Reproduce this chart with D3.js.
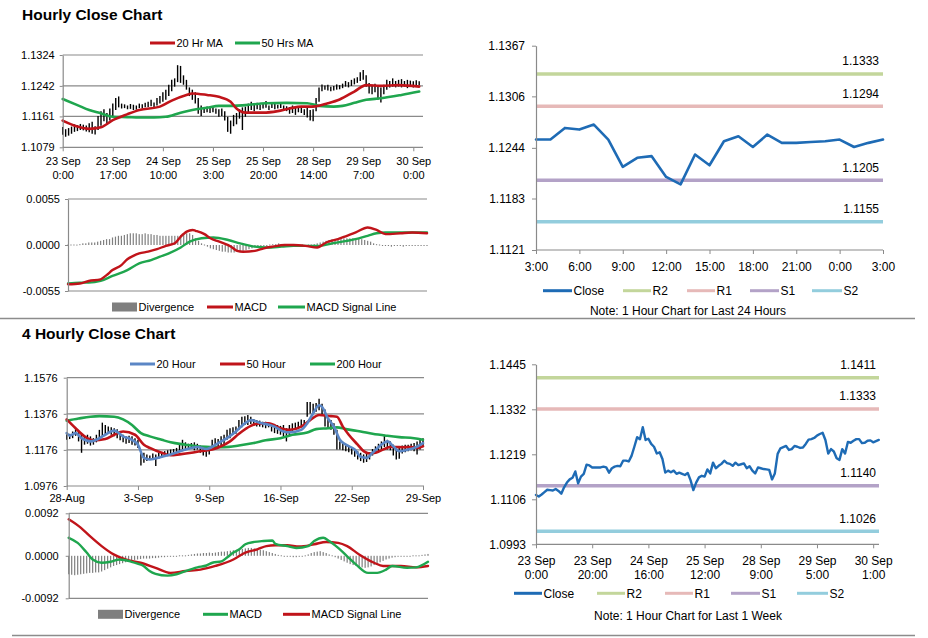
<!DOCTYPE html>
<html><head><meta charset="utf-8">
<script src="https://cdn.jsdelivr.net/npm/d3@7"></script>
<style>body{margin:0;background:#fff}svg{display:block}</style>
</head><body><svg id="c" width="928" height="638"></svg>
<script>
// ---------- Hourly (top-left) ----------
const hourlyTickIdx = [0,17,34,51,68,85,102,119];
const hourlyTickDate = ["23 Sep","23 Sep","24 Sep","25 Sep","25 Sep","28 Sep","29 Sep","30 Sep"];
const hourlyTickTime = ["0:00","17:00","10:00","3:00","20:00","14:00","7:00","0:00"];
const hourlyYTicks = [1.1079,1.1161,1.1242,1.1324];
const hourlyHigh = [
1.1133,1.1127,1.1130,1.1134,1.1140,1.1138,1.1141,1.1139,1.1137,1.1143,
1.1147,1.1135,1.1162,1.1175,1.1180,1.1170,1.1182,1.1195,1.1210,1.1214,
1.1195,1.1193,1.1190,1.1194,1.1192,1.1190,1.1195,1.1193,1.1197,1.1200,
1.1205,1.1198,1.1210,1.1215,1.1225,1.1232,1.1245,1.1258,1.1262,1.1297,
1.1295,1.1270,1.1258,1.1238,1.1232,1.1225,1.1210,1.1190,1.1185,1.1187,
1.1183,1.1186,1.1182,1.1180,1.1182,1.1175,1.1160,1.1150,1.1165,1.1170,
1.1180,1.1185,1.1187,1.1195,1.1200,1.1195,1.1197,1.1192,1.1195,1.1202,
1.1190,1.1198,1.1195,1.1192,1.1196,1.1190,1.1188,1.1186,1.1190,1.1185,
1.1188,1.1186,1.1180,1.1185,1.1178,1.1180,1.1210,1.1238,1.1246,1.1243,
1.1245,1.1240,1.1242,1.1246,1.1244,1.1248,1.1255,1.1252,1.1258,1.1262,
1.1265,1.1278,1.1284,1.1270,1.1250,1.1245,1.1248,1.1240,1.1238,1.1245,
1.1258,1.1255,1.1262,1.1255,1.1258,1.1260,1.1255,1.1258,1.1256,1.1254,
1.1257,1.1254];
const hourlyLow = [
1.1112,1.1107,1.1110,1.1115,1.1120,1.1122,1.1125,1.1124,1.1121,1.1119,
1.1115,1.1113,1.1125,1.1136,1.1148,1.1140,1.1150,1.1160,1.1178,1.1185,
1.1182,1.1183,1.1180,1.1181,1.1178,1.1179,1.1183,1.1182,1.1185,1.1186,
1.1188,1.1185,1.1190,1.1195,1.1200,1.1205,1.1215,1.1228,1.1240,1.1252,
1.1250,1.1245,1.1232,1.1215,1.1205,1.1195,1.1168,1.1162,1.1170,1.1172,
1.1170,1.1172,1.1168,1.1160,1.1162,1.1150,1.1120,1.1115,1.1135,1.1140,
1.1155,1.1125,1.1160,1.1170,1.1178,1.1175,1.1180,1.1178,1.1182,1.1184,
1.1178,1.1183,1.1180,1.1182,1.1183,1.1178,1.1175,1.1168,1.1170,1.1165,
1.1172,1.1170,1.1165,1.1158,1.1150,1.1148,1.1175,1.1200,1.1228,1.1232,
1.1230,1.1228,1.1230,1.1232,1.1233,1.1236,1.1240,1.1238,1.1242,1.1246,
1.1250,1.1255,1.1258,1.1240,1.1222,1.1220,1.1225,1.1205,1.1198,1.1220,
1.1232,1.1238,1.1240,1.1238,1.1240,1.1238,1.1240,1.1236,1.1240,1.1238,
1.1242,1.1244];
const ma20Hourly = [[0,1.1150],[5,1.1134],[9,1.1128],[13,1.1132],[17,1.1151],[22,1.1167],[26,1.1178],[33,1.1187],[37,1.1203],[42,1.1218],[44,1.1222],[49,1.1218],[53,1.1213],[57,1.1200],[59,1.1182],[62,1.1171],[68,1.1171],[73,1.1175],[77,1.1182],[81,1.1187],[85,1.1187],[90,1.1196],[94,1.1206],[99,1.1227],[103,1.1244],[108,1.1242],[114,1.1244],[121,1.1240]];
const ma50Hourly = [[0,1.1207],[5,1.1191],[9,1.1178],[13,1.1169],[17,1.1160],[22,1.1159],[26,1.1158],[31,1.1158],[35,1.1160],[40,1.1171],[44,1.1178],[49,1.1184],[53,1.1189],[58,1.1189],[62,1.1191],[69,1.1196],[76,1.1197],[83,1.1196],[87,1.1189],[92,1.1187],[95,1.1189],[99,1.1197],[103,1.1205],[108,1.1209],[115,1.1218],[121,1.1227]];
const macdHourlyTicks = [-0.0055,0,0.0055];
const divHourly = [
0,0,0,0.00005,0.0001, 0.0002,0.0002,0.0003,0.0003,0.0003, 0.0004,0.0005,0.0006,0.0007,0.0007,
0.0009,0.0010,0.0011,0.0011,0.0012, 0.0013,0.0014,0.0014,0.0014,0.0013, 0.0013,0.0014,0.0013,0.0013,0.0012,
0.0012,0.0011,0.0011,0.0011,0.0011, 0.0011,0.0011,0.0011,0.0012,0.0013, 0.0014,0.0014,0.0012,0.0008,0.0005,
0.0002,0,-0.0002,-0.0004,-0.0005, -0.0006,-0.0007,-0.0008,-0.0008,-0.0009, -0.0009,-0.0009,-0.0008,-0.0008,-0.0007,
-0.0006,-0.0005,-0.0004,-0.0003,-0.0002, -0.0002,-0.0001,-0.0001,0,0.0001, 0.0001,0.0002,0.0001,0.0001,0,
0.0001,0,-0.0001,-0.0001,0, -0.0001,0,0,0.0001,0.0002, 0.0003,0.0004,0.0005,0.0006,0.0007,
0.0007,0.0007,0.0008,0.0008,0.0008, 0.0008,0.0008,0.0007,0.0008,0.0007, 0.0006,0.0005,0.0004,0.0002,0.0001,
0,-0.0001,-0.0001,-0.0001,-0.0002, -0.0001,-0.0001,-0.0001,-0.0002,-0.0001, -0.0001,-0.0001,-0.0001,-0.0001,-0.0001,
-0.0001,-0.0001];
const macdHourly = [[0,-0.0047],[4,-0.0046],[7,-0.0043],[11,-0.0041],[13,-0.0036],[15,-0.0030],[18,-0.0024],[20,-0.0017],[22,-0.0013],[24,-0.0010],[27,-0.0008],[30,-0.0005],[33,-0.0001],[36,0.0002],[38,0.0010],[40,0.0016],[42,0.0018],[43,0.0017],[46,0.0013],[48,0.0008],[51,0.0004],[55,-0.0002],[57,-0.0007],[59,-0.0008],[63,-0.0007],[66,-0.0004],[69,-0.0002],[73,0.0000],[76,0.0000],[80,-0.0001],[84,-0.0003],[87,0.0003],[91,0.0007],[94,0.0011],[97,0.0015],[101,0.0021],[104,0.0018],[107,0.0013],[112,0.0014],[116,0.0015],[121,0.0014]];
const signalHourly = [[0,-0.0046],[4,-0.0045],[7,-0.0045],[11,-0.0043],[15,-0.0037],[20,-0.0030],[24,-0.0022],[28,-0.0018],[31,-0.0014],[34,-0.0010],[38,-0.0003],[41,0.0004],[45,0.0008],[49,0.0009],[54,0.0006],[58,0.0002],[63,-0.0002],[67,-0.0003],[72,-0.0002],[76,-0.0001],[80,-0.0001],[85,-0.0001],[89,0.0002],[94,0.0005],[98,0.0008],[101,0.0011],[104,0.0014],[107,0.0015],[112,0.0015],[116,0.0015],[121,0.0015]];

// ---------- Last 24 hours (top-right) ----------
const dayTickLabels = ["3:00","6:00","9:00","12:00","15:00","18:00","21:00","0:00","3:00"];
const dayYTicks = [1.1121,1.1183,1.1244,1.1306,1.1367];
const dayClose = [1.1254,1.1254,1.1268,1.1266,1.1272,1.1254,1.1221,1.1232,1.1234,1.1209,1.1200,1.1236,1.1223,1.1252,1.1258,1.1245,1.1260,1.1250,1.1250,1.1251,1.1252,1.1254,1.1245,1.1250,1.1254];
const levelNames = ["R2","R1","S1","S2"];
const dayLevels = [1.1333,1.1294,1.1205,1.1155];

// ---------- 4 Hourly (bottom-left) ----------
const fourTickIdx = [0,24,48,72,96,120];
const fourTickLabels = ["28-Aug","3-Sep","9-Sep","16-Sep","22-Sep","29-Sep"];
const fourYTicks = [1.0976,1.1176,1.1376,1.1576];
const fourHigh = [
1.1269,1.1265,1.1278,1.1290,1.1278,1.1260,1.1251,1.1260,1.1251,1.1241,
1.1260,1.1287,1.1327,1.1314,1.1305,1.1301,1.1296,1.1290,1.1278,1.1260,
1.1251,1.1254,1.1251,1.1241,1.1232,1.1169,1.1160,1.1151,1.1145,1.1156,
1.1151,1.1160,1.1163,1.1169,1.1174,1.1178,1.1181,1.1187,1.1205,1.1232,
1.1218,1.1210,1.1214,1.1218,1.1210,1.1200,1.1192,1.1187,1.1196,1.1232,
1.1241,1.1236,1.1251,1.1260,1.1287,1.1296,1.1301,1.1305,1.1341,1.1360,
1.1363,1.1369,1.1360,1.1347,1.1341,1.1338,1.1332,1.1332,1.1327,1.1323,
1.1320,1.1314,1.1309,1.1314,1.1296,1.1314,1.1323,1.1327,1.1332,1.1345,
1.1341,1.1441,1.1441,1.1432,1.1436,1.1460,1.1432,1.1400,1.1350,1.1341,
1.1323,1.1287,1.1223,1.1214,1.1205,1.1200,1.1192,1.1181,1.1169,1.1160,
1.1151,1.1156,1.1163,1.1181,1.1196,1.1210,1.1223,1.1260,1.1232,1.1223,
1.1205,1.1192,1.1187,1.1200,1.1205,1.1205,1.1210,1.1214,1.1223,1.1232,
1.1241];
const fourLow = [
1.1232,1.1236,1.1241,1.1254,1.1223,1.1160,1.1205,1.1210,1.1200,1.1205,
1.1218,1.1241,1.1251,1.1260,1.1269,1.1260,1.1251,1.1241,1.1229,1.1218,
1.1210,1.1214,1.1205,1.1200,1.1187,1.1090,1.1105,1.1114,1.1120,1.1123,
1.1087,1.1127,1.1132,1.1138,1.1141,1.1145,1.1151,1.1156,1.1163,1.1169,
1.1174,1.1178,1.1181,1.1174,1.1178,1.1160,1.1145,1.1138,1.1151,1.1187,
1.1192,1.1187,1.1200,1.1205,1.1232,1.1241,1.1260,1.1265,1.1287,1.1301,
1.1314,1.1314,1.1320,1.1309,1.1305,1.1305,1.1301,1.1296,1.1301,1.1278,
1.1269,1.1265,1.1260,1.1251,1.1223,1.1254,1.1278,1.1287,1.1290,1.1301,
1.1305,1.1360,1.1378,1.1381,1.1387,1.1396,1.1369,1.1305,1.1296,1.1287,
1.1260,1.1178,1.1178,1.1174,1.1169,1.1163,1.1151,1.1138,1.1123,1.1114,
1.1105,1.1109,1.1123,1.1145,1.1156,1.1163,1.1178,1.1192,1.1178,1.1174,
1.1145,1.1123,1.1127,1.1156,1.1163,1.1169,1.1174,1.1169,1.1151,1.1178,
1.1196];
const ma20Four = [[0,1.1269],[1,1.1255],[3,1.1269],[5,1.1241],[8,1.1223],[10,1.1232],[13,1.1260],[16,1.1283],[19,1.1251],[22,1.1232],[24,1.1205],[26,1.1132],[28,1.1123],[32,1.1138],[35,1.1151],[40,1.1178],[44,1.1192],[47,1.1181],[51,1.1214],[54,1.1241],[57,1.1278],[60,1.1323],[62,1.1341],[65,1.1327],[70,1.1305],[73,1.1278],[75,1.1273],[79,1.1287],[81,1.1323],[83,1.1378],[85,1.1423],[86,1.1414],[88,1.1350],[90,1.1305],[92,1.1232],[94,1.1205],[97,1.1178],[99,1.1138],[101,1.1132],[103,1.1160],[106,1.1205],[108,1.1223],[110,1.1196],[112,1.1169],[115,1.1178],[117,1.1187],[120,1.1214]];
const ma50Four = [[0,1.1345],[3,1.1296],[6,1.1251],[9,1.1229],[13,1.1236],[16,1.1260],[19,1.1278],[23,1.1260],[26,1.1205],[28,1.1187],[32,1.1160],[35,1.1146],[38,1.1151],[42,1.1160],[45,1.1169],[49,1.1178],[52,1.1196],[55,1.1223],[58,1.1265],[62,1.1309],[65,1.1323],[68,1.1323],[72,1.1296],[75,1.1287],[79,1.1305],[82,1.1341],[85,1.1369],[89,1.1363],[91,1.1360],[93,1.1305],[95,1.1260],[98,1.1205],[100,1.1169],[102,1.1156],[104,1.1160],[107,1.1181],[109,1.1192],[111,1.1192],[113,1.1191],[116,1.1192],[118,1.1187],[120,1.1196]];
const ma200Four = [[0,1.1338],[4,1.1350],[8,1.1360],[11,1.1363],[16,1.1360],[19,1.1345],[22,1.1314],[25,1.1269],[28,1.1251],[32,1.1232],[35,1.1218],[40,1.1205],[44,1.1196],[49,1.1192],[53,1.1191],[58,1.1200],[63,1.1214],[67,1.1229],[72,1.1241],[76,1.1260],[81,1.1272],[84,1.1291],[88,1.1296],[91,1.1301],[94,1.1291],[99,1.1278],[103,1.1265],[108,1.1254],[112,1.1247],[117,1.1241],[120,1.1232]];
const macdFourTicks = [-0.0092,0,0.0092];
const divFour = [
-0.0040,-0.0041,-0.0042,-0.0041,-0.0040,-0.0039,-0.0038,-0.0037,-0.0037,-0.0036,
-0.0036,-0.0034,-0.0031,-0.0028,-0.0025,-0.0022,-0.0020,-0.0018,-0.0016,-0.0014,
-0.0012,-0.0010,-0.0009,-0.0008,-0.0007,-0.0006,-0.0006,-0.0006,-0.0005,-0.0005,
-0.0004,-0.0003,-0.0003,-0.0002,-0.0002,-0.0001,-0.0001,0,0.0001,0.0001,
0.0002,0.0003,0.0004,0.0005,0.0005,0.0006,0.0006,0.0007,0.0006,0.0007,
0.0008,0.0009,0.0009,0.0010,0.0011,0.0012,0.0013,0.0014,0.0015,0.0016,
0.0017,0.0017,0.0016,0.0015,0.0013,0.0012,0.0010,0.0008,0.0006,0.0004,
0.0002,0,-0.0001,-0.0002,-0.0002,-0.0003,-0.0003,-0.0002,-0.0001,0.0001,
0.0003,0.0006,0.0008,0.0009,0.0010,0.0008,0.0006,0.0003,0,-0.0003,
-0.0006,-0.0009,-0.0012,-0.0015,-0.0018,-0.0020,-0.0022,-0.0024,-0.0025,-0.0026,
-0.0025,-0.0023,-0.0020,-0.0017,-0.0014,-0.0011,-0.0008,-0.0006,-0.0004,-0.0003,
-0.0002,-0.0002,-0.0001,-0.0001,-0.0001,0,0.0001,0.0001,0.0002,0.0003,
0.0004];
const macdFour = [[0,0.0039],[3,0.0028],[6,0.0007],[8,-0.0008],[11,-0.0015],[14,-0.0013],[17,-0.0008],[21,-0.0013],[23,-0.0017],[25,-0.0022],[27,-0.0033],[29,-0.0039],[33,-0.0043],[36,-0.0040],[39,-0.0033],[43,-0.0025],[46,-0.0021],[48,-0.0015],[51,-0.0012],[53,-0.0003],[55,0.0007],[57,0.0014],[59,0.0025],[62,0.0030],[65,0.0032],[68,0.0033],[69,0.0026],[73,0.0021],[76,0.0017],[80,0.0021],[82,0.0032],[85,0.0039],[87,0.0032],[90,0.0017],[93,-0.0001],[96,-0.0019],[100,-0.0037],[103,-0.0037],[106,-0.0030],[108,-0.0022],[113,-0.0026],[116,-0.0025],[120,-0.0013]];
const signalFour = [[0,0.0079],[4,0.0061],[7,0.0043],[11,0.0021],[15,0.0003],[19,-0.0008],[24,-0.0015],[29,-0.0026],[34,-0.0037],[39,-0.0033],[44,-0.0030],[49,-0.0022],[55,-0.0008],[59,0.0007],[63,0.0014],[66,0.0021],[69,0.0023],[73,0.0023],[77,0.0020],[82,0.0025],[86,0.0030],[90,0.0028],[93,0.0021],[97,0.0003],[102,-0.0015],[105,-0.0022],[111,-0.0022],[116,-0.0025],[120,-0.0022]];

// ---------- Last 1 week (bottom-right) ----------
const weekTickIdx = [0,20,40,60,80,100,120];
const weekTickDate = ["23 Sep","23 Sep","24 Sep","25 Sep","28 Sep","29 Sep","30 Sep"];
const weekTickTime = ["0:00","20:00","16:00","12:00","9:00","5:00","1:00"];
const weekYTicks = [1.0993,1.1106,1.1219,1.1332,1.1445];
const weekLevels = [1.1411,1.1333,1.1140,1.1026];
const weekClose = [
1.1117,1.1113,1.1118,1.1124,1.1130,1.1129,1.1128,1.1132,1.1127,1.1120,
1.1136,1.1148,1.1156,1.1160,1.1176,1.1146,1.1163,1.1170,1.1193,1.1191,
1.1186,1.1186,1.1186,1.1186,1.1188,1.1186,1.1173,1.1184,1.1188,1.1190,
1.1189,1.1203,1.1203,1.1201,1.1215,1.1238,1.1262,1.1257,1.1287,1.1255,
1.1258,1.1245,1.1238,1.1221,1.1224,1.1207,1.1173,1.1178,1.1174,1.1178,
1.1170,1.1173,1.1170,1.1167,1.1172,1.1154,1.1129,1.1148,1.1161,1.1165,
1.1163,1.1181,1.1171,1.1198,1.1184,1.1190,1.1195,1.1203,1.1197,1.1195,
1.1190,1.1198,1.1192,1.1194,1.1196,1.1184,1.1189,1.1178,1.1171,1.1186,
1.1184,1.1182,1.1181,1.1180,1.1156,1.1171,1.1220,1.1234,1.1237,1.1240,
1.1230,1.1232,1.1240,1.1238,1.1235,1.1236,1.1245,1.1256,1.1257,1.1260,
1.1266,1.1270,1.1273,1.1255,1.1221,1.1232,1.1226,1.1209,1.1205,1.1232,
1.1221,1.1250,1.1248,1.1253,1.1257,1.1257,1.1247,1.1248,1.1253,1.1254,
1.1249,1.1252,1.1255];

// ---------- styles ----------
const FONT = "'Liberation Sans', Arial, Helvetica, sans-serif";
const GRID = "#8a8a8a";
const RED = "#c0141a", GREEN = "#1fa64e", BLUE = "#5b86c5", CLOSE = "#1e6bb5", DIVC = "#7f7f7f";
const LEVELC = ["#c3d69b","#e6b9b8","#b3a2c7","#93cddd"];

const svg = d3.select("#c");

function yAxis(scale, x, ticks, fs, size, pad) {
  const g = svg.append("g").attr("transform", `translate(${x},0)`)
    .call(d3.axisLeft(scale).tickValues(ticks).tickFormat(d => d.toFixed(4)).tickSize(size).tickSizeOuter(0).tickPadding(pad));
  g.select(".domain").attr("stroke", GRID).attr("stroke-width", 1.2);
  g.selectAll(".tick line").attr("stroke", GRID);
  g.selectAll("text").attr("font-size", fs).attr("font-family", FONT).attr("fill", "#000");
  return g;
}
function xAxis(scale, y, ticks, fmt, fs, pad, x0, x1, twoLine, dy2) {
  const g = svg.append("g").attr("transform", `translate(0,${y})`)
    .call(d3.axisBottom(scale).tickValues(ticks).tickFormat(fmt).tickSize(4).tickSizeOuter(0).tickPadding(pad));
  g.select(".domain").remove();
  g.selectAll(".tick line").attr("stroke", GRID);
  g.selectAll("text").attr("font-size", fs).attr("font-family", FONT).attr("fill", "#000");
  if (twoLine) {
    g.selectAll(".tick text").each(function (d, i) {
      const t = d3.select(this); const parts = t.text().split("|");
      t.text(null).attr("dy", null);
      t.append("tspan").attr("x", 0).attr("dy", "0.71em").text(parts[0]);
      t.append("tspan").attr("x", 0).attr("dy", dy2).text(parts[1]);
    });
  }
  svg.append("line").attr("x1", x0).attr("x2", x1).attr("y1", y).attr("y2", y).attr("stroke", GRID).attr("stroke-width", 1.2);
  return g;
}
function grid(scale, vals, x0, x1) {
  svg.append("g").selectAll("line").data(vals).join("line")
    .attr("x1", x0).attr("x2", x1).attr("y1", d => scale(d)).attr("y2", d => scale(d))
    .attr("stroke", GRID).attr("stroke-width", 1.2);
}
function legendLine(x1, x2, y, color, label, fs, w) {
  svg.append("line").attr("x1", x1).attr("x2", x2).attr("y1", y).attr("y2", y).attr("stroke", color).attr("stroke-width", w || 3);
  svg.append("text").attr("x", x2 + 1.5).attr("y", y).attr("dy", "0.35em").attr("font-size", fs).attr("font-family", FONT).text(label);
}
function legendRect(x1, x2, y, label, fs) {
  svg.append("rect").attr("x", x1).attr("y", y - 4.5).attr("width", x2 - x1).attr("height", 9).attr("fill", DIVC);
  svg.append("text").attr("x", x2 + 1.5).attr("y", y).attr("dy", "0.35em").attr("font-size", fs).attr("font-family", FONT).text(label);
}
function pathLine(data, x, y, color, w, curve) {
  svg.append("path").datum(data).attr("fill", "none").attr("stroke", color).attr("stroke-width", w)
    .attr("stroke-linejoin", "round").attr("stroke-linecap", "round")
    .attr("d", d3.line().x(d => x(d[0])).y(d => y(d[1])).curve(curve || d3.curveMonotoneX));
}
function hiLo(high, low, x, y) {
  svg.append("g").selectAll("line").data(high).join("line")
    .attr("x1", (d, i) => x(i)).attr("x2", (d, i) => x(i))
    .attr("y1", d => y(d)).attr("y2", (d, i) => y(low[i]))
    .attr("stroke", "#000").attr("stroke-width", 1.4);
}
function divBars(vals, x, y) {
  const z = y(0);
  svg.append("g").selectAll("rect").data(vals).join("rect")
    .attr("x", (d, i) => x(i) - 0.6).attr("width", 1.2)
    .attr("y", d => Math.min(y(d), z) - (d === 0 ? 0.5 : 0))
    .attr("height", d => Math.max(1, Math.abs(y(d) - z)))
    .attr("fill", DIVC);
}
function title(txt, y) {
  svg.append("text").attr("x", 22).attr("y", y).attr("font-size", 15.5).attr("font-weight", "bold").attr("font-family", FONT).text(txt);
}

// ---------- titles and separators ----------
title("Hourly Close Chart", 19.5);
title("4 Hourly Close Chart", 338.5);
svg.append("line").attr("x1", 0).attr("x2", 915).attr("y1", 318.5).attr("y2", 318.5).attr("stroke", "#8c8c8c").attr("stroke-width", 1.6);
svg.append("line").attr("x1", 12).attr("x2", 915).attr("y1", 635.5).attr("y2", 635.5).attr("stroke", "#8c8c8c").attr("stroke-width", 1.6);

// ---------- Panel 1: hourly price ----------
{
  const x = d3.scaleLinear().domain([0, 119]).range([62.7, 413.3]);
  const y = d3.scaleLinear().domain([1.1079, 1.1324]).range([147.3, 55]);
  grid(y, hourlyYTicks.slice(1), 62.7, 423);
  hiLo(hourlyHigh, hourlyLow, x, y);
  pathLine(ma50Hourly, x, y, GREEN, 2.6);
  pathLine(ma20Hourly, x, y, RED, 2.6);
  yAxis(y, 62.7, hourlyYTicks, 11, 3, 5);
  xAxis(x, 147.3, hourlyTickIdx, (d, i) => hourlyTickDate[i] + "|" + hourlyTickTime[i], 11, 6, 62.7, 423, true, "14px");
  legendLine(150, 175, 43, RED, "20 Hr MA", 11);
  legendLine(235, 260, 43, GREEN, "50 Hrs MA", 11);
}
// ---------- Panel 2: hourly MACD ----------
{
  const x = d3.scaleLinear().domain([0, 121]).range([68, 427]);
  const y = d3.scaleLinear().domain([-0.0055, 0.0055]).range([291, 199]);
  grid(y, [0.0055, -0.0055], 68, 427);
  divBars(divHourly, x, y);
  pathLine(signalHourly, x, y, GREEN, 2.4);
  pathLine(macdHourly, x, y, RED, 2.4);
  yAxis(y, 68, macdHourlyTicks, 11, 3, 5);
  legendRect(112, 137, 307, "Divergence", 11);
  legendLine(207, 233, 307, RED, "MACD", 11);
  legendLine(278, 305, 307, GREEN, "MACD Signal Line", 11);
}
// ---------- Panel 3: last 24 hours ----------
{
  const x = d3.scaleLinear().domain([0, 24]).range([536, 883]);
  const y = d3.scaleLinear().domain([1.1121, 1.1367]).range([250, 45.7]);
  svg.append("g").selectAll("line").data(dayLevels).join("line")
    .attr("x1", 536).attr("x2", 883).attr("y1", d => y(d)).attr("y2", d => y(d))
    .attr("stroke", (d, i) => LEVELC[i]).attr("stroke-width", 3.5);
  svg.append("g").selectAll("text").data(dayLevels).join("text")
    .attr("x", 879).attr("y", d => y(d) - 8.5).attr("text-anchor", "end")
    .attr("font-size", 12).attr("font-family", FONT).text(d => d.toFixed(4));
  pathLine(dayClose.map((v, i) => [i, v]), x, y, CLOSE, 2.6, d3.curveLinear);
  yAxis(y, 536, dayYTicks, 12, 4, 7);
  xAxis(x, 250, d3.range(0, 25, 3), (d, i) => dayTickLabels[i], 12, 8.5, 536, 883, false);
  const ly = 290.7;
  legendLine(543, 572, ly, CLOSE, "Close", 12);
  legendLine(623, 651, ly, LEVELC[0], "R2", 12);
  legendLine(687, 715, ly, LEVELC[1], "R1", 12);
  legendLine(750, 779, ly, LEVELC[2], "S1", 12);
  legendLine(812, 842, ly, LEVELC[3], "S2", 12);
  svg.append("text").attr("x", 688).attr("y", 311).attr("dy", "0.35em").attr("text-anchor", "middle")
    .attr("font-size", 12).attr("font-family", FONT).text("Note: 1 Hour Chart for Last 24 Hours");
}
// ---------- Panel 4: 4 hourly price ----------
{
  const x = d3.scaleLinear().domain([0, 120]).range([66.7, 423]);
  const y = d3.scaleLinear().domain([1.0976, 1.1576]).range([486, 377.7]);
  grid(y, fourYTicks.slice(1), 66.7, 424);
  hiLo(fourHigh, fourLow, x, y);
  pathLine(ma200Four, x, y, GREEN, 2.6);
  pathLine(ma50Four, x, y, RED, 2.6);
  pathLine(ma20Four, x, y, BLUE, 2.6);
  yAxis(y, 66.7, fourYTicks, 11, 3, 6);
  xAxis(x, 486, fourTickIdx, (d, i) => fourTickLabels[i], 11, 4, 66.7, 424, false);
  legendLine(130, 155, 364, BLUE, "20 Hour", 11);
  legendLine(220, 245, 364, RED, "50 Hour", 11);
  legendLine(310, 335, 364, GREEN, "200 Hour", 11);
}
// ---------- Panel 5: 4 hourly MACD ----------
{
  const x = d3.scaleLinear().domain([0, 120]).range([68.7, 428]);
  const y = d3.scaleLinear().domain([-0.0092, 0.0092]).range([598.3, 513.3]);
  grid(y, [0.0092, -0.0092], 68.7, 428);
  divBars(divFour, x, y);
  pathLine(signalFour, x, y, RED, 2.4);
  pathLine(macdFour, x, y, GREEN, 2.4);
  yAxis(y, 68.7, macdFourTicks, 11, 3, 7);
  legendRect(98, 123, 614.3, "Divergence", 11);
  legendLine(203, 228, 614.3, GREEN, "MACD", 11);
  legendLine(283, 310, 614.3, RED, "MACD Signal Line", 11);
}
// ---------- Panel 6: last 1 week ----------
{
  const x = d3.scaleLinear().domain([0, 122]).range([536, 878.8]);
  const y = d3.scaleLinear().domain([1.0993, 1.1445]).range([544.3, 364.3]);
  svg.append("g").selectAll("line").data(weekLevels).join("line")
    .attr("x1", 536).attr("x2", 879).attr("y1", d => y(d)).attr("y2", d => y(d))
    .attr("stroke", (d, i) => LEVELC[i]).attr("stroke-width", 3.5);
  svg.append("g").selectAll("text").data(weekLevels).join("text")
    .attr("x", 876).attr("y", d => y(d) - 8.5).attr("text-anchor", "end")
    .attr("font-size", 12).attr("font-family", FONT).text(d => d.toFixed(4));
  pathLine(weekClose.map((v, i) => [i, v]), x, y, CLOSE, 2.4, d3.curveLinear);
  yAxis(y, 536, weekYTicks, 12, 4, 6);
  xAxis(x, 544.3, weekTickIdx, (d, i) => weekTickDate[i] + "|" + weekTickTime[i], 12, 8.5, 536, 879, true, "13.3px");
  const ly = 593.3;
  legendLine(514, 542, ly, CLOSE, "Close", 12);
  legendLine(597, 625, ly, LEVELC[0], "R2", 12);
  legendLine(665, 693, ly, LEVELC[1], "R1", 12);
  legendLine(731, 760, ly, LEVELC[2], "S1", 12);
  legendLine(797, 828, ly, LEVELC[3], "S2", 12);
  svg.append("text").attr("x", 688).attr("y", 616).attr("dy", "0.35em").attr("text-anchor", "middle")
    .attr("font-size", 12).attr("font-family", FONT).text("Note: 1 Hour Chart for Last 1 Week");
}
</script></body></html>
